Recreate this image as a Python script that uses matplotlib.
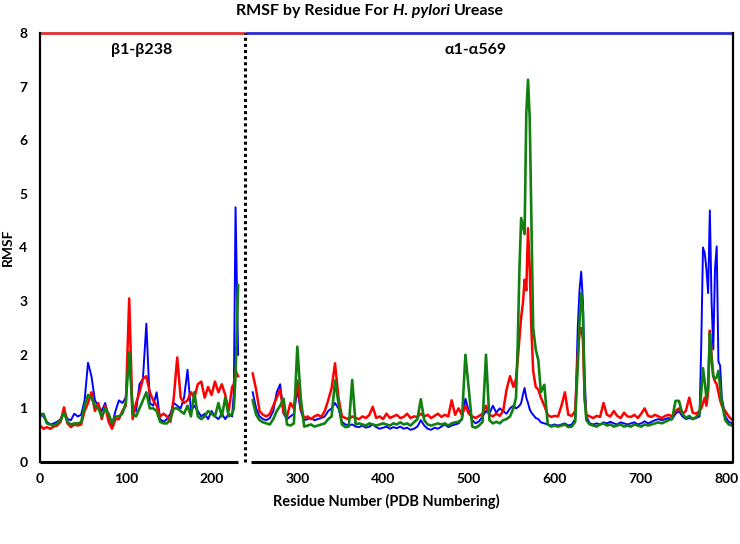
import numpy as np
import matplotlib.pyplot as plt

plt.rcParams['font.family'] = ['Lato', 'DejaVu Sans']
plt.rcParams['font.weight'] = 'bold'

# beta chain (plotted at residue positions 0-231)
beta_x = list(range(0, 228, 4)) + [226, 228, 231]
beta_blue = [0.92, 0.85, 0.75, 0.70, 0.72, 0.75, 0.80, 0.95, 0.80, 0.78,
             0.90, 0.85, 0.88, 1.15, 1.85, 1.60, 1.15, 1.05, 0.95, 1.10,
             0.85, 0.70, 0.95, 1.15, 1.10, 1.20, 2.00, 1.05, 0.95, 1.45,
             1.55, 2.58, 1.10, 1.05, 1.30, 0.80, 0.75, 0.80, 0.90, 1.10,
             1.05, 1.00, 1.20, 1.72, 0.95, 1.05, 0.95, 0.85, 0.90, 0.80,
             0.95, 0.85, 0.80, 0.90, 0.80, 0.90, 0.85, 1.30, 4.75, 2.00]
beta_red = [0.68, 0.62, 0.65, 0.62, 0.66, 0.68, 0.75, 1.02, 0.72, 0.65,
            0.70, 0.68, 0.70, 0.95, 1.10, 1.30, 0.95, 1.10, 0.80, 1.05,
            0.75, 0.62, 0.80, 0.80, 0.95, 1.05, 3.05, 0.80, 1.10, 1.30,
            1.55, 1.60, 1.30, 1.15, 1.05, 0.85, 0.90, 0.85, 0.75, 1.20,
            1.95, 1.20, 1.10, 1.15, 1.30, 1.20, 1.45, 1.50, 1.20, 1.40,
            1.25, 1.50, 1.30, 1.45, 1.25, 0.95, 1.40, 1.45, 1.70, 1.60]
beta_green = [0.85, 0.90, 0.72, 0.70, 0.68, 0.72, 0.78, 0.92, 0.75, 0.70,
              0.72, 0.72, 0.74, 1.05, 1.25, 1.20, 1.05, 1.00, 0.85, 1.00,
              0.90, 0.72, 0.85, 0.85, 0.90, 1.10, 2.05, 0.90, 0.85, 1.00,
              1.15, 1.30, 1.00, 1.00, 0.95, 0.75, 0.72, 0.72, 0.80, 1.00,
              1.00, 0.95, 0.90, 1.05, 0.85, 1.30, 0.85, 0.80, 0.85, 0.95,
              0.90, 0.85, 1.10, 0.85, 1.20, 0.85, 0.90, 1.00, 1.60, 3.30]

# alpha chain (plotted at positions 248-807)
alpha_x = (list(range(248, 553, 4)) + list(range(555, 576, 2)) + [578, 581, 584]
           + list(range(588, 625, 4)) + list(range(627, 638, 2))
           + list(range(641, 770, 4)) + list(range(771, 796, 2)) + [799, 803, 807])
alpha_blue = [1.30, 1.00, 0.85, 0.80, 0.78, 0.82, 0.95, 1.30, 1.45, 0.90,
              0.80, 0.85, 0.90, 1.35, 0.95, 0.78, 0.80, 0.82, 0.78, 0.80,
              0.82, 0.85, 0.95, 1.00, 1.10, 1.00, 0.75, 0.70, 0.68, 0.70,
              0.66, 0.65, 0.68, 0.64, 0.66, 0.70, 0.65, 0.62, 0.64, 0.66,
              0.62, 0.65, 0.63, 0.66, 0.62, 0.64, 0.60, 0.62, 0.66, 0.78,
              0.68, 0.62, 0.60, 0.64, 0.62, 0.66, 0.70, 0.65, 0.68, 0.70,
              0.72, 0.80, 1.18, 0.95, 0.78, 0.72, 0.76, 0.85, 0.95, 0.90,
              1.05, 0.92, 1.00, 0.95, 0.90, 1.00, 1.05,
              1.00, 1.02, 1.05, 1.10, 1.25, 1.38, 1.20, 1.10, 0.98, 0.92, 0.88, 0.82, 0.80, 0.74,
              0.72, 0.70, 0.68, 0.70, 0.68, 0.70, 0.72, 0.68, 0.70, 0.80,
              2.50, 3.20, 3.55, 3.00, 1.60, 0.85,
              0.72, 0.70, 0.72, 0.70, 0.74, 0.72, 0.75, 0.72, 0.70, 0.74,
              0.72, 0.70, 0.72, 0.74, 0.70, 0.72, 0.76, 0.72, 0.75, 0.78,
              0.80, 0.78, 0.80, 0.82, 0.80, 0.90, 0.95, 0.85, 0.80, 0.82,
              0.80, 0.82, 0.85,
              2.20, 4.00, 3.90, 3.60, 3.15, 4.69, 3.00, 2.10, 3.60, 4.02, 1.87, 1.80, 1.20,
              0.85, 0.75, 0.72]
alpha_red = [1.65, 1.35, 0.95, 0.88, 0.85, 0.90, 1.05, 1.20, 1.35, 0.92,
             0.85, 1.10, 1.00, 1.52, 1.00, 0.82, 0.85, 0.80, 0.85, 0.88,
             0.84, 0.95, 1.15, 1.38, 1.84, 1.20, 0.85, 0.82, 0.80, 0.85,
             0.82, 0.80, 0.85, 0.82, 0.88, 1.03, 0.82, 0.85, 0.80, 0.90,
             0.82, 0.85, 0.88, 0.82, 0.84, 0.90, 0.82, 0.85, 0.84, 0.90,
             0.85, 0.88, 0.82, 0.86, 0.90, 0.84, 0.88, 0.85, 1.15, 0.88,
             1.00, 0.88, 1.05, 0.90, 0.85, 0.82, 0.86, 0.90, 1.05, 0.88,
             0.85, 0.90, 0.86, 0.95, 1.35, 1.60, 1.40,
             1.55, 1.90, 2.30, 2.70, 2.95, 3.40, 3.20, 4.36, 3.60, 2.45, 1.70, 1.40, 1.35, 1.20,
             1.05, 0.88, 0.84, 0.86, 0.85, 1.05, 1.30, 0.88, 0.86, 0.95,
             2.00, 2.40, 2.50, 2.30, 1.20, 0.88,
             0.85, 0.82, 0.86, 0.84, 1.10, 0.88, 0.85, 0.95, 0.86, 0.82,
             0.92, 0.85, 0.84, 0.88, 0.82, 0.90, 1.00, 0.86, 0.84, 0.88,
             0.85, 0.82, 0.86, 0.88, 0.85, 0.95, 1.00, 0.90, 0.95, 1.20,
             0.92, 0.90, 0.95,
             1.00, 1.10, 1.20, 1.05, 1.30, 2.45, 2.00, 1.60, 1.50, 1.45, 1.30, 1.15, 1.05,
             0.95, 0.85, 0.78]
alpha_green = [1.15, 0.88, 0.78, 0.74, 0.72, 0.70, 0.80, 0.95, 1.05, 1.18,
               0.70, 0.68, 0.72, 2.15, 1.20, 0.66, 0.68, 0.70, 0.66, 0.68,
               0.70, 0.72, 0.80, 0.85, 1.52, 1.10, 0.70, 0.65, 0.66, 1.53,
               0.70, 0.72, 0.70, 0.68, 0.72, 0.70, 0.68, 0.70, 0.72, 0.70,
               0.68, 0.72, 0.70, 0.74, 0.70, 0.72, 0.68, 0.74, 0.80, 1.17,
               0.78, 0.70, 0.68, 0.70, 0.72, 0.70, 0.72, 0.68, 0.72, 0.74,
               0.75, 0.80, 2.00, 1.35, 0.66, 0.64, 0.68, 0.75, 2.00, 0.78,
               0.72, 0.75, 0.72, 0.78, 0.80, 0.85, 1.00,
               1.20, 2.20, 3.60, 4.55, 4.40, 4.25, 6.50, 7.13, 6.40, 4.50, 2.50, 2.10, 1.90, 1.30,
               1.44, 0.70, 0.66, 0.68, 0.66, 0.68, 0.70, 0.65, 0.66, 0.75,
               1.80, 2.60, 3.15, 2.80, 1.20, 0.78,
               0.70, 0.68, 0.66, 0.70, 0.72, 0.68, 0.70, 0.66, 0.68, 0.70,
               0.66, 0.68, 0.66, 0.70, 0.68, 0.66, 0.70, 0.68, 0.70, 0.72,
               0.74, 0.72, 0.75, 0.78, 0.80, 1.14, 1.14, 0.90, 0.82, 0.86,
               0.80, 0.84, 0.90,
               1.30, 1.75, 1.50, 1.20, 1.40, 2.40, 1.90, 1.60, 1.55, 1.58, 1.70, 1.40, 1.10,
               0.78, 0.70, 0.68]

x_ticks = list(range(0, 801, 100))
y_ticks = list(range(0, 9))
split = 238.5

fig = plt.figure(figsize=(7.4, 5.44), dpi=100)
ax = fig.add_axes([40 / 740, 82 / 544, 693 / 740, 429 / 544])

# blue first, then red, green on top
for xs, b, r, g in [(beta_x, beta_blue, beta_red, beta_green),
                    (alpha_x, alpha_blue, alpha_red, alpha_green)]:
    ax.plot(xs, b, color='#0000ff', lw=1.4)
    ax.plot(xs, r, color='#ff0000', lw=1.8)
    ax.plot(xs, g, color='#118011', lw=1.9)

ax.set_xlim(0, 808)
ax.set_ylim(0, 8)
ax.set_xticks(x_ticks)
ax.set_yticks(y_ticks)
ax.tick_params(length=0, labelsize=10)
ax.tick_params(axis='y', pad=9)
ax.tick_params(axis='x', pad=8)

# spines: black sides, broken bottom, coloured top
for s in ['top', 'bottom']:
    ax.spines[s].set_visible(False)
for s in ['left', 'right']:
    ax.spines[s].set_linewidth(1.6)
ax.plot([0, 231], [0, 0], color='k', lw=2.2, clip_on=False, solid_capstyle='butt')
ax.plot([246, 808], [0, 0], color='k', lw=2.2, clip_on=False, solid_capstyle='butt')
ax.plot([0, split], [8, 8], color='#e03030', lw=2.0, clip_on=False, solid_capstyle='butt')
ax.plot([split, 808], [8, 8], color='#2b2bd0', lw=2.0, clip_on=False, solid_capstyle='butt')
ax.plot([split, split], [0, 8], color='k', lw=2.2, linestyle=(0, (1, 1)), clip_on=False)

ax.text(118, 7.68, 'β1-β238', ha='center', va='center', fontsize=11.5,
        fontweight='bold', family=['Lato', 'DejaVu Sans'])
ax.text(508, 7.68, 'α1-α569', ha='center', va='center', fontsize=11.5,
        fontweight='bold', family=['Lato', 'DejaVu Sans'])

ax.set_xlabel('Residue Number (PDB Numbering)', fontsize=10.5, fontweight='bold', labelpad=6)
ax.set_ylabel('RMSF', fontsize=10, fontweight='bold', labelpad=4)

# title with italic species name, centred on the figure
fig.canvas.draw()
renderer = fig.canvas.get_renderer()
parts = [('RMSF by Residue For', 'normal'), ('H. pylori', 'italic'), ('Urease', 'normal')]
texts = [fig.text(0, 0.980, s, fontsize=11.5, fontweight='bold', style=st, va='center')
         for s, st in parts]
sp = fig.text(0, 0, 'x x', fontsize=11.5, fontweight='bold')
sp2 = fig.text(0, 0, 'xx', fontsize=11.5, fontweight='bold')
gap = sp.get_window_extent(renderer).width - sp2.get_window_extent(renderer).width
sp.remove()
sp2.remove()
widths = [t.get_window_extent(renderer).width for t in texts]
total = sum(widths) + 2 * gap
x0 = (fig.bbox.width - total) / 2
for t, w in zip(texts, widths):
    t.set_x(x0 / fig.bbox.width)
    x0 += w + gap

fig.savefig('out.png', dpi=100)
